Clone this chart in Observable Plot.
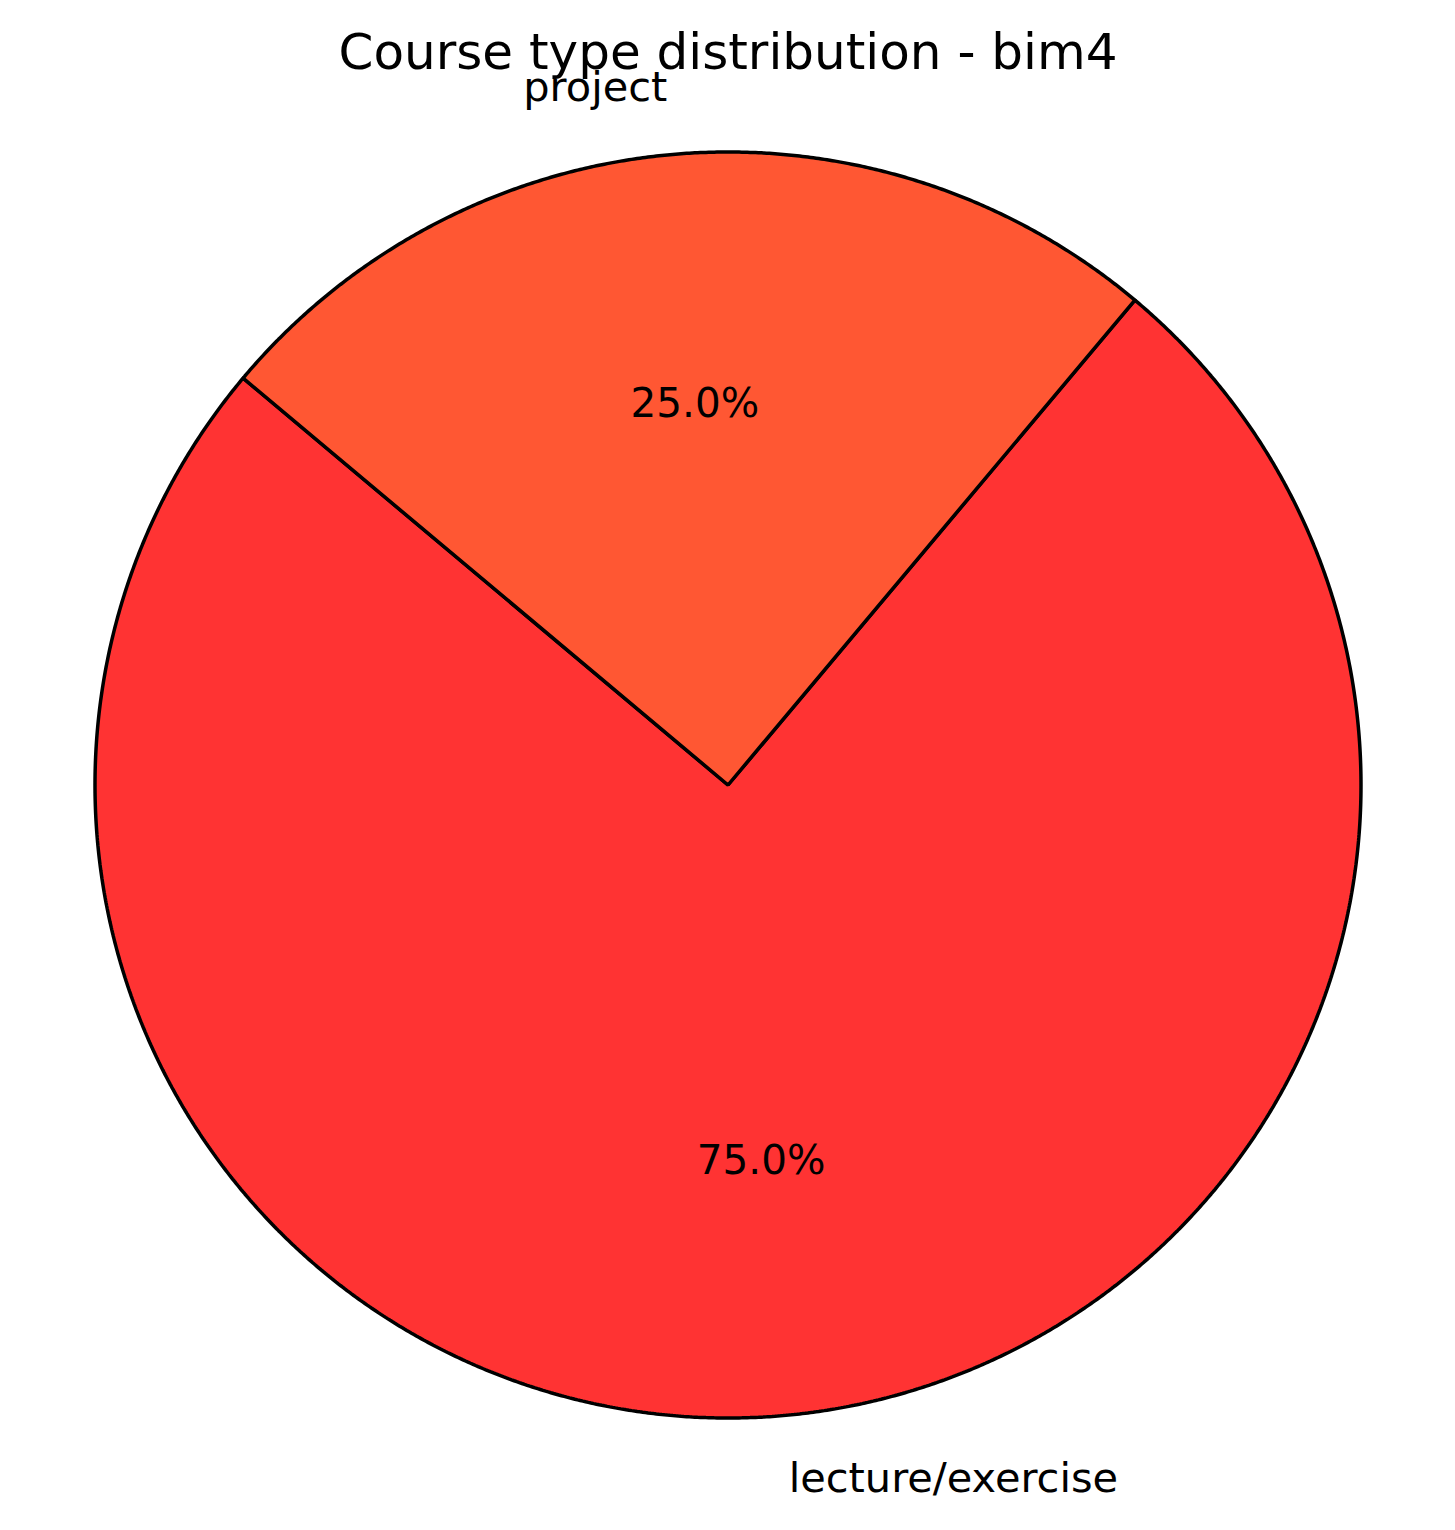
<!DOCTYPE html>
<html><head><meta charset="utf-8">
<script src="https://cdn.jsdelivr.net/npm/d3@7"></script>
<script src="https://cdn.jsdelivr.net/npm/@observablehq/plot@0.6"></script>
<style>html,body{margin:0;padding:0;background:#fff} svg{display:block}</style>
</head><body><div id="chart"></div>
<script>
// ---- data ----
const categories = ["lecture/exercise", "project"];
const values = [3, 1];
const colors = ["#FF3333", "#FF5733"];
const title = "Course type distribution - bim4";
const startAngle = 140; // degrees, counter-clockwise

// ---- layout ----
const W = 1455, H = 1530, CX = 727.5, CY = 784.5, R = 633;
const total = d3.sum(values);
let acc = startAngle;
const slices = categories.map((c, i) => {
  const span = values[i] / total * 360;
  const s = {category: c, value: values[i], start: acc, end: acc + span, mid: acc + span / 2,
             pct: (values[i] / total * 100).toFixed(1) + "%"};
  acc += span;
  return s;
});
const rad = d => d * Math.PI / 180;
const wedgePts = slices.flatMap(s => {
  const n = Math.max(2, Math.ceil((s.end - s.start) / 0.25));
  const pts = [];
  for (let k = 0; k <= n; k++) {
    const a = rad(s.start + (s.end - s.start) * k / n);
    pts.push({category: s.category, x: Math.cos(a), y: Math.sin(a)});
  }
  pts.push({category: s.category, x: 0, y: 0});
  pts.push({category: s.category, x: pts[0].x, y: pts[0].y});
  return pts;
});
const labelDist = 1.1, pctDist = 0.6;
const labels = slices.map(s => ({...s, lx: labelDist * Math.cos(rad(s.mid)), ly: labelDist * Math.sin(rad(s.mid)),
  px: pctDist * Math.cos(rad(s.mid)), py: pctDist * Math.sin(rad(s.mid))}));

const font = "DejaVu Sans";
const chart = Plot.plot({
  width: W, height: H,
  marginTop: 0, marginBottom: 0, marginLeft: 0, marginRight: 0,
  style: {fontFamily: font, background: "white", color: "black"},
  x: {domain: [-CX / R, (W - CX) / R], range: [0, W], axis: null},
  y: {domain: [-(H - CY) / R, CY / R], range: [H, 0], axis: null},
  color: {domain: categories, range: colors},
  marks: [
    Plot.line(wedgePts, {x: "x", y: "y", z: "category", fill: "category", stroke: "black",
      strokeWidth: 3.5, strokeLinejoin: "miter", strokeLinecap: "round", curve: "linear"}),
    Plot.text(labels.filter(d => Math.cos(rad(d.mid)) < 0), {x: "lx", y: "ly", text: "category",
      textAnchor: "end", lineAnchor: "middle", fontSize: 41.5, dy: -4, fill: "black"}),
    Plot.text(labels.filter(d => Math.cos(rad(d.mid)) >= 0), {x: "lx", y: "ly", text: "category",
      textAnchor: "start", lineAnchor: "middle", fontSize: 41.5, dy: 0, fill: "black"}),
    Plot.text(labels, {x: "px", y: "py", text: "pct", textAnchor: "middle", lineAnchor: "middle",
      fontSize: 40.5, dy: -2.5, fill: "black"}),
    Plot.text([title], {frameAnchor: "top", text: d => d, lineAnchor: "middle", dy: 52,
      fontSize: 50, fill: "black"})
  ]
});
document.getElementById("chart").appendChild(chart);
</script>
</body></html>
